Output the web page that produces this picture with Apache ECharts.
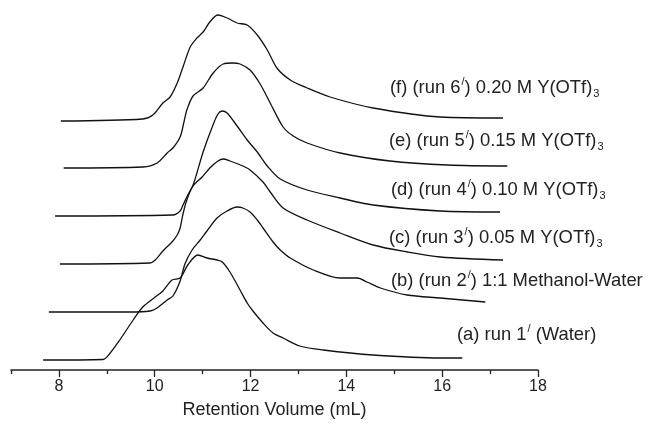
<!DOCTYPE html>
<html>
<head>
<meta charset="utf-8">
<script src="https://cdn.jsdelivr.net/npm/echarts@6/dist/echarts.min.js"></script>
<style>
  html, body { margin: 0; padding: 0; background: #fff; }
  #chart { width: 648px; height: 425px; }
</style>
</head>
<body>
<div id="chart"></div>
<script>
// GPC traces, [retention volume (mL), detector response (a.u., peak ~105)]
const runA = [[7.67,0],[8.92,0.5],[9.07,7],[9.27,20],[9.55,40],[9.75,53],[10.01,63],[10.17,69],[10.36,80],[10.53,82],[10.69,95],[10.90,105],[11.09,102],[11.30,100],[11.41,98],[11.57,88],[11.78,70],[11.93,57],[12.05,49],[12.26,37],[12.47,27],[12.68,22],[13.03,14],[13.52,10],[14.56,5],[15.96,2],[16.42,2]];
const runB = [[7.79,0],[9.48,0],[9.90,1],[10.05,4],[10.26,12],[10.38,16],[10.53,31],[10.63,48],[10.78,62],[10.95,72],[11.09,81],[11.30,94],[11.51,101],[11.72,105],[11.84,104],[11.99,100],[12.14,92],[12.26,84],[12.47,70],[12.62,62],[12.83,54],[13.31,42],[13.87,34],[14.23,34],[14.43,30],[14.71,24],[15.27,17],[15.96,14],[16.90,10]];
const runC = [[8.02,0],[9.90,1],[10.01,4],[10.17,13],[10.36,22],[10.47,29],[10.53,36],[10.59,50],[10.67,64],[10.80,78],[10.99,87],[11.15,96],[11.32,103],[11.43,105],[11.57,103],[11.84,98],[11.99,94],[12.26,82],[12.41,72],[12.68,56],[13.18,44],[13.87,31],[14.56,19],[15.27,12],[15.96,7],[17.27,4]];
const runD = [[7.92,0],[10.38,1],[10.53,5],[10.59,11],[10.69,21],[10.80,31],[10.88,43],[11.01,64],[11.20,89],[11.32,102],[11.41,105],[11.51,103],[11.72,90],[11.93,76],[12.14,64],[12.35,50],[12.62,37],[13.18,26],[13.87,18],[14.56,11],[15.96,5],[17.21,4]];
const runE = [[8.10,0],[9.75,1],[10.05,5],[10.26,15],[10.38,20],[10.53,31],[10.61,46],[10.67,58],[10.80,72],[11.01,80],[11.22,95],[11.43,104],[11.63,105],[11.78,104],[11.99,98],[12.20,84],[12.41,65],[12.68,41],[12.89,32],[13.18,25],[13.87,15],[14.91,7],[16.11,3],[17.36,2]];
const runF = [[8.04,0],[9.75,2],[9.96,6],[10.17,18],[10.32,24],[10.47,38],[10.59,54],[10.74,74],[10.88,83],[11.01,89],[11.15,99],[11.32,106],[11.51,103],[11.72,98],[11.93,96],[12.14,86],[12.35,71],[12.55,53],[12.83,41],[13.18,33],[13.66,24],[14.56,13],[15.96,4],[17.27,3]];

// vertical offset of each trace (stacked plot)
const offsets = [10, 58, 106, 154, 202, 249];
const runs = [runA, runB, runC, runD, runE, runF];

const labels = [
  '(a) run 1{sup|/} (Water)',
  '(b) (run 2{sup|/}) 1:1 Methanol-Water',
  '(c) (run 3{sup|/}) 0.05 M Y(OTf){sub|3}',
  '(d) (run 4{sup|/}) 0.10 M Y(OTf){sub|3}',
  '(e) (run 5{sup|/}) 0.15 M Y(OTf){sub|3}',
  '(f) (run 6{sup|/}) 0.20 M Y(OTf){sub|3}'
];
const labelPos = [[457, 335], [391, 281], [389, 238], [391, 190], [389, 141], [390, 88]];

const majorTicks = [8, 10, 12, 14, 16, 18];
const minorTicks = [7, 9, 11, 13, 15, 17];

const chart = echarts.init(document.getElementById('chart'));

const series = runs.map((run, i) => ({
  type: 'line',
  data: run.map(p => [p[0], p[1] + offsets[i]]),
  smooth: 0.3,
  showSymbol: false,
  silent: true,
  lineStyle: { color: '#111', width: 1.3 }
}));

const font = 'Liberation Sans, Arial, sans-serif';

chart.setOption({
  animation: false,
  grid: { left: 11, right: 110, top: 10, bottom: 55 },
  xAxis: [{
    type: 'value',
    min: 7,
    max: 18,
    interval: 1,
    name: 'Retention Volume (mL)',
    nameLocation: 'middle',
    nameGap: 31,
    nameTextStyle: { fontSize: 18, color: '#222', fontFamily: font },
    axisLine: { lineStyle: { color: '#222', width: 1.5 } },
    axisTick: { customValues: majorTicks, length: 7, lineStyle: { color: '#222', width: 1.3 } },
    axisLabel: { customValues: majorTicks, margin: 9, fontSize: 16, color: '#222', fontFamily: font },
    splitLine: { show: false }
  }, {
    type: 'value',
    min: 7,
    max: 18,
    interval: 1,
    position: 'bottom',
    axisLine: { show: false },
    axisTick: { customValues: minorTicks, length: 4, lineStyle: { color: '#222', width: 1.3 } },
    axisLabel: { show: false },
    splitLine: { show: false }
  }],
  yAxis: { type: 'value', min: 0, max: 360, show: false },
  series: series,
  graphic: labels.map((t, i) => ({
    type: 'text',
    x: labelPos[i][0],
    y: labelPos[i][1],
    style: {
      text: t,
      fill: '#222',
      font: '18.4px ' + font,
      verticalAlign: 'middle',
      rich: {
        sup: { fontSize: 11, fontFamily: font, fill: '#222', padding: [0, 0, 12, 1] },
        sub: { fontSize: 11, fontFamily: font, fill: '#222', padding: [12, 0, 0, 1] }
      }
    }
  }))
});
</script>
</body>
</html>
